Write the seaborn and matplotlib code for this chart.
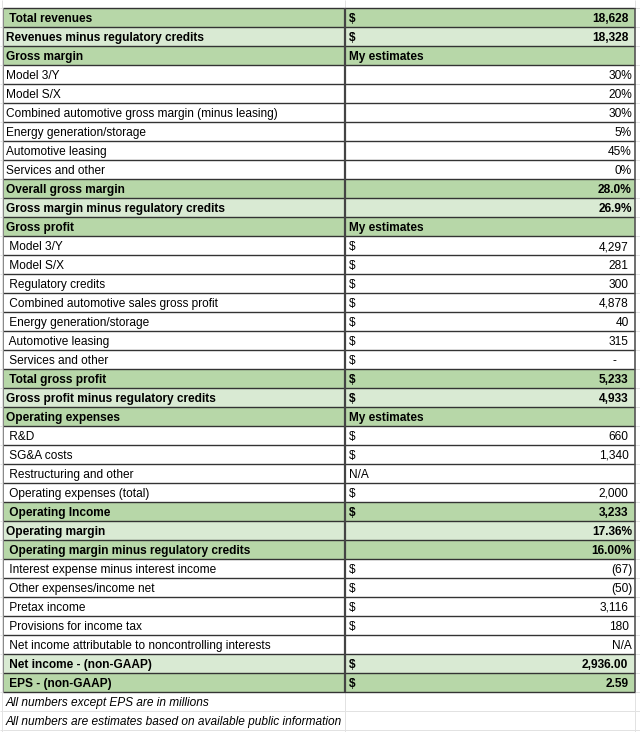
import numpy as np
import pandas as pd
import matplotlib
matplotlib.use("Agg")
import matplotlib.pyplot as plt
from matplotlib.colors import ListedColormap
import seaborn as sns

# Table content (leading space = indented cell text, as in the sheet)
labels = [
    " Total revenues", "Revenues minus regulatory credits", "Gross margin",
    "Model 3/Y", "Model S/X", "Combined automotive gross margin (minus leasing)",
    "Energy generation/storage", "Automotive leasing", "Services and other",
    "Overall gross margin", "Gross margin minus regulatory credits", "Gross profit",
    " Model 3/Y", " Model S/X", " Regulatory credits", " Combined automotive sales gross profit",
    " Energy generation/storage", " Automotive leasing", " Services and other",
    " Total gross profit", "Gross profit minus regulatory credits", "Operating expenses",
    " R&D", " SG&A costs", " Restructuring and other", " Operating expenses (total)",
    " Operating Income", "Operating margin", " Operating margin minus regulatory credits",
    " Interest expense minus interest income", " Other expenses/income net", " Pretax income",
    " Provisions for income tax", " Net income attributable to noncontrolling interests",
    " Net income - (non-GAAP)", " EPS - (non-GAAP)",
    "All numbers except EPS are in millions",
    "All numbers are estimates based on available public information",
]
values = [
    "18,628", "18,328", "My estimates",
    "30%", "20%", "30%", "5%", "45%", "0%",
    "28.0%", "26.9%", "My estimates",
    "4,297", "281", "300", "4,878", "40", "315", "-",
    "5,233", "4,933", "My estimates",
    "660", "1,340", "N/A", "2,000",
    "3,233", "17.36%", "16.00%",
    "(67)", "(50)", "3,116", "180", "N/A",
    "2,936.00", "2.59",
    "", "",
]
dollar = [
    1, 1, 0,
    0, 0, 0, 0, 0, 0,
    0, 0, 0,
    1, 1, 1, 1, 1, 1, 1,
    1, 1, 0,
    1, 1, 0, 1,
    1, 0, 0,
    1, 1, 1, 1, 0,
    1, 1,
    0, 0,
]
# 0 = white, 1 = light green, 2 = green
fill = [
    2, 1, 2,
    0, 0, 0, 0, 0, 0,
    2, 1, 2,
    0, 0, 0, 0, 0, 0, 0,
    2, 1, 2,
    0, 0, 0, 0,
    2, 1, 2,
    0, 0, 0, 0, 0,
    1, 2,
    0, 0,
]
n_rows = len(labels)
n_table = n_rows - 2          # last two rows are notes

# geometry in pixels
W, H = 640, 732
X0, XMID, X1 = 3, 344.5, 635
Y0, RH = 7.5, 19
LEFT_COLS, RIGHT_COLS = 20, 17

fig = plt.figure(figsize=(W / 100, H / 100), dpi=100)
fig.patch.set_facecolor("white")

# cell backgrounds via seaborn heatmap
grid = np.array([[f] * (LEFT_COLS + RIGHT_COLS) for f in fill])
hm_ax = fig.add_axes([X0 / W, (H - (Y0 + n_rows * RH)) / H,
                      (X1 - X0) / W, n_rows * RH / H])
sns.heatmap(pd.DataFrame(grid), ax=hm_ax, cmap=ListedColormap(["#ffffff", "#d9ead3", "#b7d7a8"]),
            vmin=0, vmax=2, cbar=False, xticklabels=False, yticklabels=False)
hm_ax.set_axis_off()

# overlay in pixel coordinates for lines and text
ax = fig.add_axes([0, 0, 1, 1])
ax.set_xlim(0, W)
ax.set_ylim(H, 0)
ax.set_axis_off()
ax.patch.set_alpha(0)

light = "#e2e2e2"
dark = "#333333"
px = 0.72

# light sheet grid outside the table
for i in range(n_rows + 1):
    y = Y0 + i * RH
    ax.hlines(y, 0, X0, color=light, lw=px)
    ax.hlines(y, X1, W, color=light, lw=px)
ax.hlines([Y0 + (n_table + 1) * RH, Y0 + (n_table + 2) * RH], X0, X1, color=light, lw=px)
ax.vlines([1.5], 0, H, color=light, lw=px)
ax.vlines([XMID, X1], Y0 + n_table * RH, H, color=light, lw=px)
ax.vlines([XMID, X1], 0, Y0, color=light, lw=px)

# table borders
for i in range(n_table + 1):
    y = Y0 + i * RH
    ax.hlines(y, X0, X1, color=dark, lw=1.0)
ax.vlines(X0, Y0, Y0 + n_table * RH, color="#8a8a8a", lw=px)
ax.vlines(XMID, Y0, Y0 + n_table * RH, color="#444444", lw=1.6)
ax.vlines(X1, Y0, Y0 + n_table * RH, color="#555555", lw=1.2)

font = "Liberation Sans"
fs = 8.6
for i, (lab, val, d, f) in enumerate(zip(labels, values, dollar, fill)):
    yb = 22 + RH * i
    bold = f > 0
    weight = "bold" if bold else "normal"
    style = "italic" if i >= n_table else "normal"
    ax.text(6, yb, lab, ha="left", va="baseline", fontsize=fs, family=font,
            weight=weight, style=style, color="black")
    if d:
        ax.text(349, yb, "$", ha="left", va="baseline", fontsize=fs, family=font,
                weight=weight, color="black")
    if not val:
        continue
    if val == "My estimates" or (val == "N/A" and i < 30):
        ax.text(349, yb, val, ha="left", va="baseline", fontsize=fs, family=font,
                weight=weight, color="black")
        continue
    if val == "-":
        xr = 616
    elif d and not val.endswith(")"):
        xr = 628.5
    else:
        xr = 632
    ax.text(xr, yb, val, ha="right", va="baseline", fontsize=fs, family=font,
            weight=weight, color="black")

fig.savefig("out.png", dpi=100)
